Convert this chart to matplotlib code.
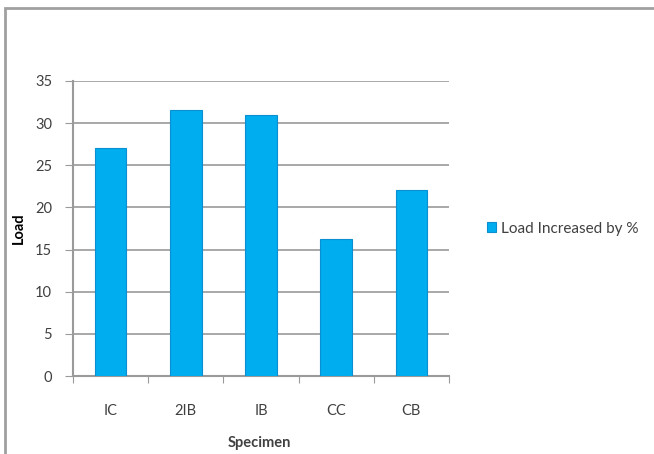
import matplotlib.pyplot as plt
from matplotlib.patches import Rectangle

specimens = ['IC', '2IB', 'IB', 'CC', 'CB']
load_increase = [27.0, 31.6, 31.0, 16.2, 22.1]

BAR = '#00adef'
EDGE = '#0a8fd0'
GRID = '#9a9a9a'
TEXT = '#404040'
FS = 10.5

plt.rcParams['font.family'] = ['Lato', 'DejaVu Sans']

fig = plt.figure(figsize=(6.54, 4.54), dpi=100)
ax = fig.add_axes([73 / 654, 1 - 376 / 454, 376 / 654, 295 / 454])

x = range(len(specimens))
ax.bar(x, load_increase, width=0.42, color=BAR, edgecolor=EDGE, linewidth=0.8,
       label='Load Increased by %', zorder=3)

ax.set_ylim(0, 35)
ax.set_xlim(-0.5, len(specimens) - 0.5)
ax.set_yticks(range(0, 36, 5))
ax.yaxis.grid(True, color=GRID, linewidth=1.2, zorder=0)
ax.set_axisbelow(True)

# category labels between tick marks
ax.set_xticks([i - 0.5 for i in range(len(specimens) + 1)])
ax.set_xticklabels([])
ax.set_xticks(list(x), minor=True)
ax.set_xticklabels(specimens, minor=True)
ax.tick_params(axis='x', which='major', length=5, color=GRID, direction='out')
ax.tick_params(axis='x', which='minor', length=0, pad=20, labelsize=FS, labelcolor=TEXT)
ax.tick_params(axis='y', length=6, color=GRID, labelsize=FS, labelcolor=TEXT, pad=9)

for s in ['top', 'right']:
    ax.spines[s].set_visible(False)
for s in ['left', 'bottom']:
    ax.spines[s].set_color(GRID)
    ax.spines[s].set_linewidth(1.5)

ax.set_ylabel('Load', fontsize=FS, fontweight='bold', color='black')
ax.yaxis.set_label_coords(-0.125, 0.5)
ax.set_xlabel('Specimen', fontsize=FS, fontweight='bold', color=TEXT, va='center')
ax.xaxis.set_label_coords(0.497, -0.227)

ax.legend(loc='center left', bbox_to_anchor=(1.065, 0.5), frameon=False,
          fontsize=FS + 0.5, handlelength=0.6, handleheight=0.6, handletextpad=0.3,
          labelcolor=TEXT)

# outer chart frame, cut off at right and bottom
fig.patches.append(Rectangle((5 / 654, -0.1), 1.2, 1 - 8 / 454 + 0.1,
                             transform=fig.transFigure, fill=False,
                             edgecolor='#a0a0a0', linewidth=2))

fig.savefig('out.png', dpi=100)
